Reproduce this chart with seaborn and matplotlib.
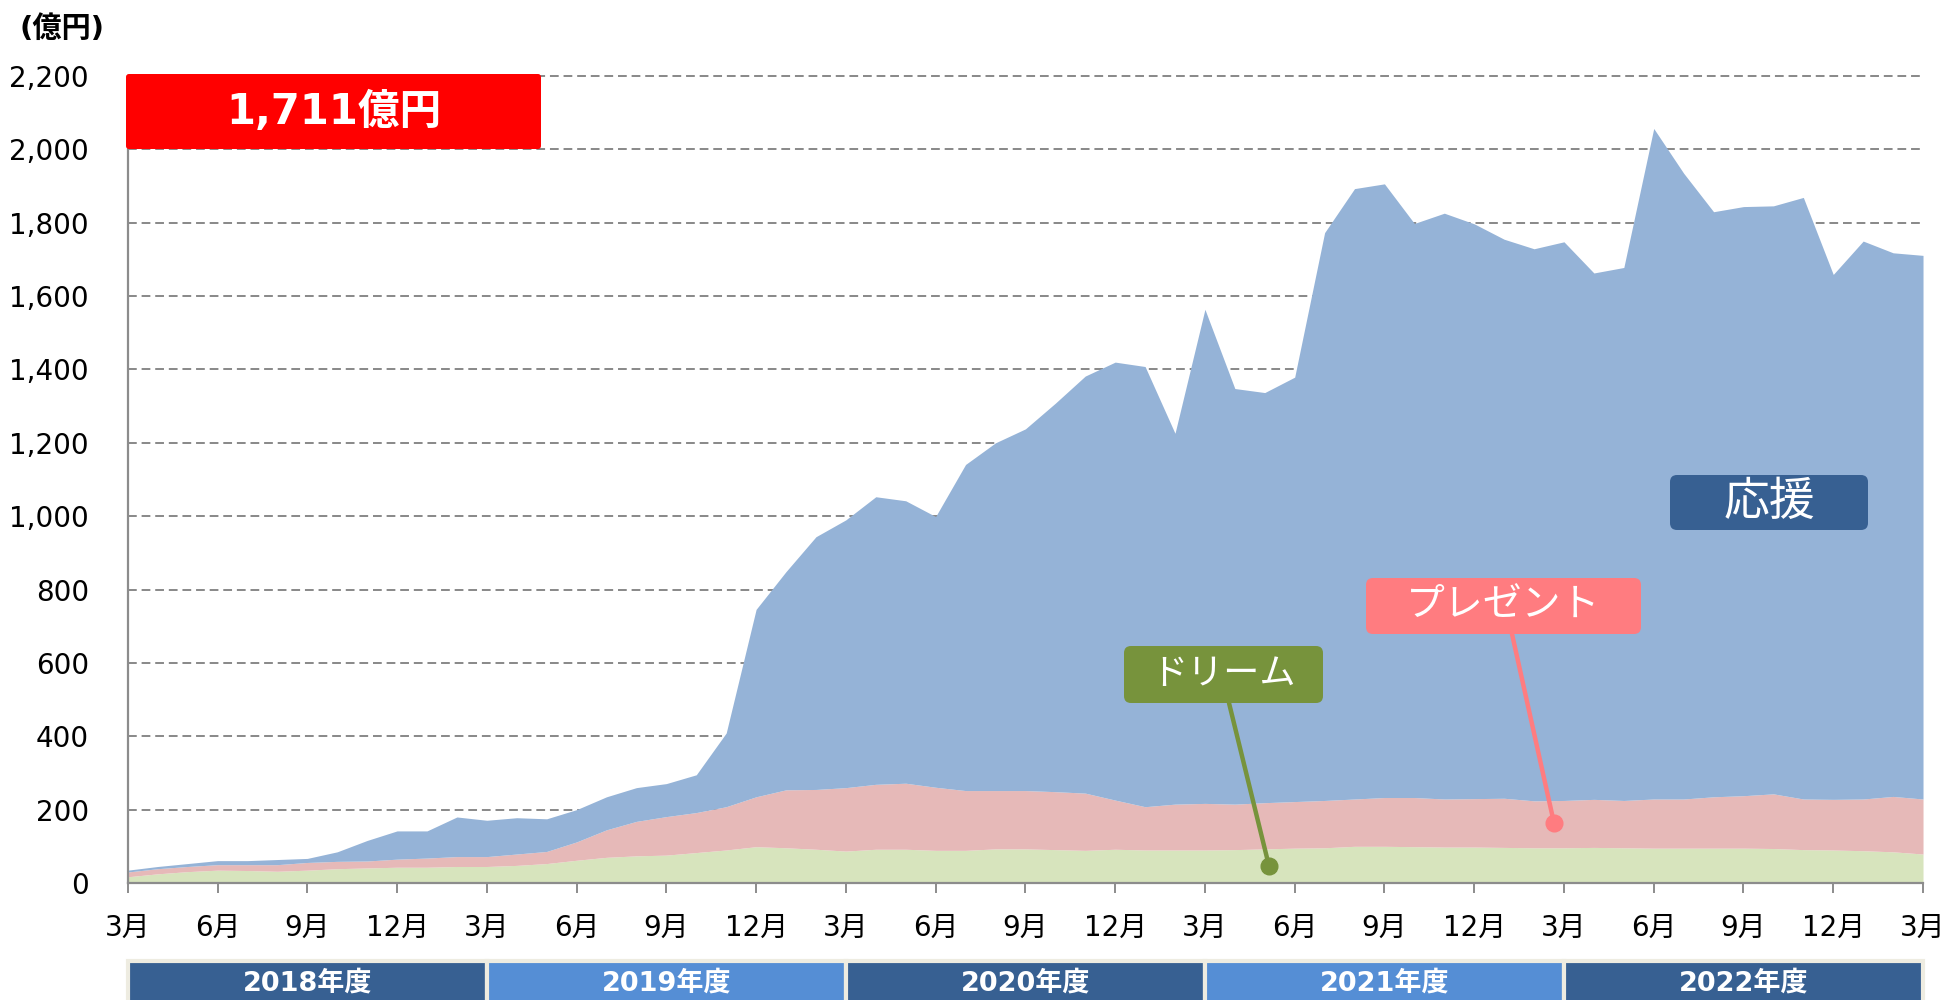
import matplotlib
matplotlib.use("Agg")
import matplotlib.pyplot as plt
import seaborn as sns
from matplotlib.patches import FancyBboxPatch, Rectangle
from matplotlib.lines import Line2D
from matplotlib.transforms import IdentityTransform, blended_transform_factory

sns.set_theme(style="white")
plt.rcParams['font.family'] = ['DejaVu Sans', 'Noto Sans CJK JP']

# monthly balances, Mar 2018 .. Mar 2023 (億円)
dream = [17, 25, 31, 35, 34, 32, 35, 39, 41, 43, 43, 45, 45, 48, 53, 62, 70, 74, 76, 83,
         90, 99, 96, 92, 87, 92, 92, 89, 89, 93, 93, 91, 89, 92, 90, 90, 90, 91, 93, 95,
         96, 100, 100, 99, 98, 98, 97, 96, 96, 97, 96, 95, 95, 95, 95, 94, 91, 90, 88, 85, 79]
present = [13, 14, 14, 15, 16, 18, 21, 20, 19, 22, 25, 27, 27, 31, 33, 50, 75, 94, 105, 109,
           118, 136, 158, 163, 173, 177, 180, 172, 163, 159, 159, 158, 156, 134, 118, 125, 127, 124, 126, 127,
           129, 129, 133, 134, 131, 132, 134, 128, 129, 131, 129, 134, 134, 140, 143, 149, 138, 138, 141, 151, 150]
support = [5, 6, 8, 11, 11, 14, 11, 26, 56, 77, 74, 108, 99, 99, 89, 88, 90, 92, 90, 103,
           201, 511, 595, 689, 730, 784, 770, 738, 889, 948, 986, 1059, 1137, 1194, 1200, 1011, 1347, 1133, 1118, 1157,
           1548, 1664, 1673, 1565, 1597, 1567, 1524, 1505, 1523, 1435, 1453, 1828, 1706, 1595, 1606, 1603, 1640, 1431, 1521, 1482, 1482]

tick_labels = ['3月', '6月', '9月', '12月'] * 5 + ['3月']
fiscal_years = ['2018年度', '2019年度', '2020年度', '2021年度', '2022年度']
year_colors = ['#376092', '#558ED5', '#376092', '#558ED5', '#376092']
series_colors = ['#D7E4BD', '#E6B9B8', '#95B3D7']

months = list(range(len(support)))

fig = plt.figure(figsize=(19.45, 10), dpi=100)
ax = fig.add_axes([0.0657, 0.117, 0.923, 0.807])

ax.stackplot(months, dream, present, support, colors=series_colors, linewidth=0)

ax.set_xlim(0, len(months) - 1)
ax.set_ylim(0, 2200)
ax.set_xticks(range(0, len(months), 3))
ax.set_xticklabels(tick_labels)
ax.set_yticks(range(0, 2201, 200))
ax.set_yticklabels(['{:,}'.format(v) for v in range(0, 2201, 200)])

ax.yaxis.grid(True, color='#888888', linestyle=(0, (4.5, 2.5)), linewidth=1.4)
ax.xaxis.grid(False)
ax.set_axisbelow(True)
for gl in ax.get_ygridlines():
    gl.set_clip_on(False)

for side in ['top', 'right']:
    ax.spines[side].set_visible(False)
for side in ['left', 'bottom']:
    ax.spines[side].set_color('#8C8C8C')
    ax.spines[side].set_linewidth(1.6)

ax.tick_params(axis='x', bottom=True, length=7, width=1.4, color='#8C8C8C',
               pad=15, labelsize=20, labelcolor='black')
ax.tick_params(axis='y', left=False, length=0, pad=28, labelsize=20, labelcolor='black')

# unit label
fig.text(62 / 1945, 1 - 29 / 1000, '(億円)', ha='center', va='center',
         fontsize=21, fontweight='bold', color='black')


def px_box(x0, y0, x1, y1, color, text, size, weight='normal', radius=7):
    box = FancyBboxPatch((x0, 1000 - y1), x1 - x0, y1 - y0,
                         boxstyle='round,pad=0,rounding_size={}'.format(radius),
                         transform=IdentityTransform(), fc=color, ec='none', zorder=5)
    fig.add_artist(box)
    fig.text((x0 + x1) / 2 / 1945, 1 - (y0 + y1) / 2 / 1000, text, ha='center', va='center',
             fontsize=size, fontweight=weight, color='white', zorder=6)


def px_leader(xa, ya, xb, yb, color):
    fig.add_artist(Line2D([xa, xb], [1000 - ya, 1000 - yb], transform=IdentityTransform(),
                          color=color, lw=3.2, zorder=5))
    fig.add_artist(Line2D([xb], [1000 - yb], transform=IdentityTransform(), marker='o',
                          markersize=12, color=color, zorder=5))


# total balance badge
px_box(126, 74, 541, 149, '#FF0000', '1,711億円', 30, weight='bold', radius=3)

# series callouts
px_box(1670, 475, 1868, 530, '#376092', '応援', 33)
px_leader(1512, 634, 1554, 823, '#FF7C80')
px_box(1366, 578, 1641, 634, '#FF7C80', 'プレゼント', 28)
px_leader(1229, 703, 1269, 866, '#77933C')
px_box(1124, 646, 1323, 703, '#77933C', 'ドリーム', 26)

# fiscal year bands under the axis
band_tr = blended_transform_factory(ax.transData, fig.transFigure)
for i, (label, color) in enumerate(zip(fiscal_years, year_colors)):
    ax.add_patch(Rectangle((i * 12, -0.01), 12, 0.049, transform=band_tr, clip_on=False,
                           fc=color, ec='#EEECE1', lw=3))
    ax.text(i * 12 + 6, 1 - 984 / 1000, label, transform=band_tr, ha='center', va='center',
            fontsize=19.5, fontweight='bold', color='white', clip_on=False)

fig.savefig('out.png', dpi=100)
